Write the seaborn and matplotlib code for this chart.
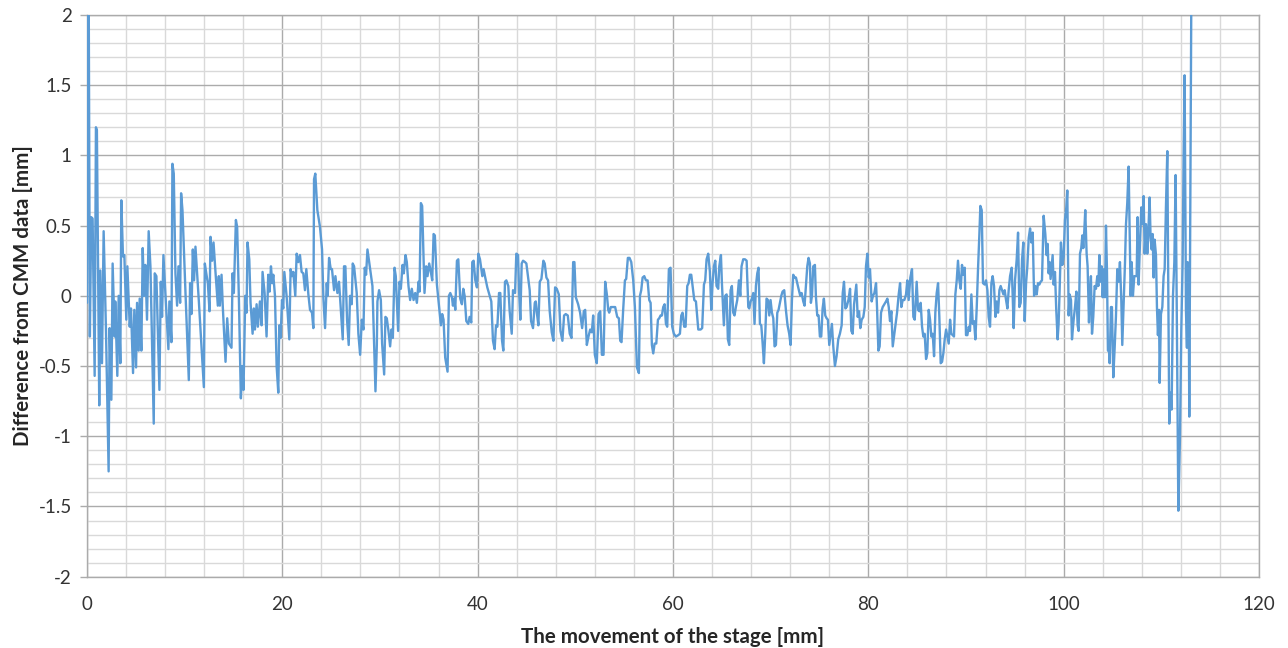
import matplotlib
matplotlib.use("Agg")
import matplotlib.pyplot as plt
import matplotlib.ticker as mticker
import pandas as pd
import seaborn as sns

# values (x in mm, difference in mm)
stage_mm = [
    0.0, 0.15, 0.3, 0.44, 0.58, 0.79, 0.92, 1.02, 1.26, 1.37,
    1.54, 1.71, 1.95, 2.22, 2.32, 2.5, 2.63, 2.84, 2.9, 3.11,
    3.25, 3.42, 3.52, 3.69, 3.83, 4.03, 4.14, 4.38, 4.51, 4.72,
    4.85, 5.03, 5.13, 5.3, 5.4, 5.57, 5.71, 5.85, 5.98, 6.15,
    6.32, 6.5, 6.84, 6.94, 7.11, 7.42, 7.56, 7.69, 7.83, 8.03,
    8.34, 8.44, 8.65, 8.75, 8.89, 9.06, 9.23, 9.37, 9.54, 9.64,
    9.78, 10.09, 10.43, 10.56, 10.7, 10.84, 10.97, 11.11, 11.45, 11.97,
    12.07, 12.24, 12.38, 12.55, 12.65, 12.82, 12.96, 13.16, 13.4, 13.5,
    13.61, 13.78, 13.91, 14.19, 14.36, 14.53,
    14.8, 14.91, 15.04, 15.25, 15.38, 15.56, 15.76, 15.9, 16.03, 16.21,
    16.34, 16.44, 16.62, 16.75, 16.96, 17.09, 17.2, 17.37, 17.5, 17.71,
    17.88, 17.98, 18.19, 18.39, 18.56, 18.7, 18.84, 18.97, 19.08, 19.25,
    19.42, 19.59, 19.69, 19.83, 19.97, 20.1, 20.21, 20.44, 20.72, 20.85,
    20.99, 21.13, 21.33, 21.47, 21.64, 21.81, 21.98, 22.15, 22.32, 22.46,
    22.67, 22.84, 23.04, 23.18, 23.25, 23.38, 23.59, 23.86, 24.07, 24.21,
    24.38, 24.55, 24.65, 24.79, 24.96, 25.09, 25.3, 25.44, 25.64, 25.81,
    26.02, 26.19, 26.32, 26.46, 26.63, 26.8, 26.94, 27.11, 27.21, 27.35,
    27.62, 27.79, 27.97, 28.14, 28.31, 28.44, 28.58, 28.72, 28.82, 28.99,
    29.23, 29.33, 29.54, 29.68, 29.74, 29.91, 30.09, 30.22, 30.43, 30.56,
    30.7, 30.87, 31.04, 31.18, 31.32, 31.49, 31.62, 31.86, 32.0, 32.14,
    32.31, 32.44, 32.62, 32.75, 32.92, 33.09, 33.26, 33.44, 33.61, 33.78,
    33.95, 34.05, 34.19, 34.32, 34.56, 34.73, 34.87, 35.04,
    35.21, 35.35, 35.49, 35.62, 35.83, 36.03, 36.24, 36.37, 36.51, 36.68,
    36.92, 37.06, 37.2, 37.37, 37.47, 37.61, 37.71, 37.88, 38.02, 38.22,
    38.39, 38.53, 38.67, 38.84, 39.04, 39.18, 39.35, 39.45, 39.59, 39.76,
    39.93, 40.07, 40.24, 40.48, 40.61, 40.75, 40.99, 41.23, 41.4, 41.57,
    41.74, 41.88, 42.02, 42.19, 42.32, 42.5, 42.63, 42.8, 42.94, 43.14,
    43.28, 43.49, 43.62, 43.83, 43.96, 44.14, 44.24, 44.37, 44.51, 44.65,
    44.85, 44.99, 45.2, 45.33, 45.47, 45.67, 45.85, 45.95, 46.08, 46.22,
    46.36, 46.53, 46.73, 46.87, 47.04, 47.21, 47.38, 47.59, 47.76, 47.93,
    48.1, 48.31, 48.48, 48.68, 48.85, 49.02, 49.23, 49.43, 49.61, 49.78,
    49.91, 50.05, 50.29, 50.49, 50.7, 50.87, 51.01, 51.18, 51.35, 51.52,
    51.69, 51.83, 52.0, 52.2, 52.38, 52.55, 52.72, 52.89, 53.06, 53.23,
    53.37, 53.47, 53.64, 53.88, 54.08, 54.29, 54.46, 54.6, 54.73, 54.9,
    55.08, 55.21, 55.38, 55.55, 55.73, 55.93, 56.1, 56.31, 56.51, 56.62,
    56.75, 56.89, 57.06, 57.23, 57.4, 57.57, 57.71, 57.84, 57.98, 58.12,
    58.29, 58.46, 58.59, 58.73, 58.87, 59.0, 59.14, 59.28, 59.41, 59.58,
    59.75, 59.92, 60.09, 60.3, 60.54, 60.71, 60.85, 60.98, 61.15, 61.29,
    61.46, 61.6, 61.73, 61.87, 62.01, 62.18, 62.35, 62.59, 62.83, 62.99,
    63.17, 63.3, 63.44, 63.61, 63.78, 63.92, 64.05, 64.19, 64.33, 64.46,
    64.63, 64.74, 64.91, 65.01, 65.21, 65.35, 65.49, 65.62, 65.76, 65.9,
    66.03, 66.17, 66.3, 66.44, 66.58, 66.75, 66.89, 67.02, 67.19, 67.37,
    67.54, 67.71, 67.81, 67.95, 68.08, 68.22, 68.35, 68.49, 68.63, 68.76,
    68.9, 69.04, 69.17, 69.31, 69.45, 69.58, 69.72, 69.86, 69.99, 70.13,
    70.27, 70.4, 70.54, 70.68, 70.81, 70.95, 71.09, 71.22, 71.39, 71.56,
    71.73, 71.9, 72.04, 72.18, 72.31, 72.45, 72.59, 72.72, 72.89, 73.03,
    73.17, 73.34, 73.47, 73.61, 73.75, 73.88, 74.02, 74.12, 74.23, 74.36,
    74.53, 74.63, 74.77, 74.91, 75.04, 75.18, 75.32, 75.45, 75.59, 75.73,
    75.86, 76.0, 76.14, 76.27, 76.41, 76.58, 76.75, 76.92, 77.09,
    77.27, 77.38, 77.51, 77.65, 77.78, 77.96, 78.13, 78.26, 78.4, 78.54,
    78.67, 78.77, 78.91, 79.05, 79.18, 79.32, 79.49, 79.63, 79.76, 79.9,
    80.04, 80.17, 80.34, 80.48, 80.62, 80.79, 80.89, 81.03, 81.16, 81.3,
    81.47, 81.64, 81.81, 81.95, 82.09, 82.22, 82.36, 82.5, 82.63, 82.77,
    82.94, 83.11, 83.25, 83.38, 83.52, 83.69, 83.86, 83.99, 84.13, 84.3,
    84.47, 84.61, 84.75, 84.95, 85.09, 85.22, 85.36, 85.5, 85.63, 85.77,
    85.91, 86.04, 86.18, 86.32, 86.45, 86.59, 86.73, 86.86, 87.0, 87.14,
    87.27, 87.41, 87.55, 87.68, 87.82, 87.96, 88.09, 88.23, 88.37, 88.5,
    88.64, 88.77, 88.91, 89.05, 89.18, 89.32, 89.46, 89.59, 89.73, 89.87,
    90.0, 90.14, 90.28, 90.41, 90.55, 90.69, 90.82, 90.96, 91.1, 91.23,
    91.37, 91.47, 91.61, 91.74, 91.91, 92.05, 92.19, 92.32, 92.46, 92.6,
    92.73, 92.87, 93.01, 93.14, 93.28, 93.42, 93.55, 93.69, 93.83, 93.96,
    94.1, 94.24, 94.37, 94.51, 94.68, 94.78, 94.88, 95.02, 95.19, 95.33,
    95.46, 95.6, 95.74, 95.87, 96.01, 96.15, 96.28, 96.42, 96.56, 96.69,
    96.83, 96.97, 97.1, 97.24, 97.37, 97.51,
    97.64, 97.78, 97.95, 98.12, 98.25, 98.36, 98.46, 98.56, 98.66, 98.77,
    98.87, 98.97, 99.11, 99.24, 99.38, 99.48, 99.59, 99.72, 99.86, 100.0,
    100.13, 100.27, 100.37, 100.51, 100.61, 100.75, 100.85, 101.02, 101.16, 101.3,
    101.43, 101.53, 101.67, 101.8, 101.91, 102.01, 102.11, 102.21, 102.35, 102.45,
    102.59, 102.69, 102.79, 102.9, 103.03, 103.17, 103.31, 103.44, 103.55, 103.65,
    103.78, 103.89, 103.99, 104.13, 104.23, 104.33, 104.43, 104.53, 104.64, 104.71,
    104.84, 104.94, 105.08, 105.22, 105.35, 105.49, 105.63, 105.76, 105.9, 106.0,
    106.14, 106.28, 106.38, 106.51, 106.65, 106.75, 106.86, 106.96, 107.09, 107.23,
    107.37, 107.47, 107.57, 107.67, 107.81, 107.95, 108.08, 108.19, 108.29, 108.43,
    108.56, 108.66, 108.8, 108.9, 109.01, 109.11, 109.21, 109.31, 109.45, 109.55,
    109.65, 109.76, 109.83, 109.96, 110.1, 110.23, 110.34, 110.47, 110.61, 110.71,
    110.81, 110.92, 111.05, 111.19, 111.33, 111.46, 111.57, 111.74, 111.91, 112.04,
    112.18, 112.28, 112.38, 112.52, 112.62, 112.69, 112.79, 112.86, 112.96, 113.1,
]

diff_mm = [
    -0.05, 2.8, -0.29, 0.56, 0.55, -0.57, 1.2, 1.18, -0.78, 0.18,
    -0.48, 0.46, -0.25, -1.25, -0.23, -0.74, 0.23, -0.29, -0.04, -0.57,
    0.0, -0.48, 0.68, 0.28, 0.29, -0.17, 0.21, -0.22, -0.09, -0.55,
    -0.1, -0.51, -0.05, -0.39, -0.02, -0.39, 0.34, 0.0, 0.22, -0.17,
    0.46, 0.21, -0.91, 0.16, 0.14, -0.67, 0.1, -0.15, 0.29, 0.02,
    -0.38, -0.04, -0.33, 0.94, 0.87, 0.16, -0.07, 0.21, -0.05, 0.73,
    0.61, 0.02, -0.6, 0.09, -0.13, 0.33, 0.11, 0.35, -0.03, -0.65,
    0.23, 0.15, 0.09, -0.11, 0.42, 0.25, 0.38, 0.17, -0.07, 0.14,
    -0.07, 0.15, -0.08, -0.47, -0.16, -0.34,
    -0.37, 0.16, 0.02, 0.54, 0.49, -0.03, -0.73, -0.5, -0.67, 0.0,
    -0.12, 0.38, 0.26, -0.05, -0.27, -0.09, -0.24, -0.06, -0.22, -0.04,
    -0.21, 0.17, 0.02, -0.29, 0.15, 0.03, 0.21, 0.09, 0.15, 0.0,
    -0.5, -0.69, -0.21, -0.3, -0.03, -0.09, 0.17, 0.0, -0.31, 0.19,
    0.14, 0.17, 0.0, 0.3, 0.24, 0.29, 0.17, 0.16, 0.04, 0.19,
    0.01, -0.1, -0.12, -0.23, 0.83, 0.87, 0.61, 0.49, 0.33, -0.02,
    -0.23, 0.09, 0.0, 0.27, 0.19, 0.19, 0.04, 0.14, 0.02, 0.1,
    -0.12, -0.31, 0.21, 0.21, -0.17, -0.35, 0.0, -0.06, 0.23, 0.21,
    0.02, -0.27, -0.42, -0.17, -0.24, 0.2, 0.15, 0.33, 0.28, 0.19,
    0.07, -0.17, -0.68, -0.35, -0.04, 0.04, -0.03, -0.34, -0.56, -0.15,
    -0.16, -0.25, -0.36, -0.24, -0.3, 0.2, 0.14, -0.25, 0.1, 0.05,
    0.22, 0.16, 0.29, 0.24, 0.07, -0.03, 0.05, -0.03, 0.02, -0.05,
    0.1, 0.03, 0.66, 0.64, 0.02, 0.21, 0.14, 0.23,
    0.17, 0.11, 0.44, 0.43, 0.08, -0.06, -0.21, -0.13, -0.17, -0.44,
    -0.54, 0.0, 0.02, -0.01, -0.07, -0.02, -0.1, 0.25, 0.26, -0.02,
    -0.06, 0.05, 0.0, -0.18, -0.2, -0.15, -0.19, 0.24, 0.25, 0.11,
    0.06, 0.3, 0.26, 0.14, 0.19, 0.14, 0.06, 0.0, -0.04, -0.32,
    -0.38, -0.21, -0.22, 0.02, 0.02, -0.32, -0.39, 0.1, 0.11, 0.07,
    -0.11, -0.27, 0.04, 0.02, 0.3, 0.29, 0.04, -0.17, 0.23, 0.25,
    0.24, 0.23, 0.11, 0.04, -0.18, -0.23, -0.05, -0.04, -0.13, -0.21,
    0.1, 0.12, 0.25, 0.23, 0.13, 0.11, -0.11, -0.26, -0.32, 0.06,
    0.05, 0.01, -0.25, -0.32, -0.14, -0.13, -0.14, -0.27, -0.3, 0.24,
    0.24, -0.01, -0.06, -0.12, -0.23, -0.11, -0.1, -0.35, -0.29, -0.24,
    -0.26, -0.14, -0.42, -0.48, -0.13, -0.11, -0.42, -0.42, 0.1, 0.01,
    -0.1, -0.12, -0.08, -0.08, -0.08, -0.15, -0.16, -0.32, -0.33, -0.1,
    0.11, 0.12, 0.27, 0.27, 0.24, 0.11, -0.08, -0.51, -0.55, 0.0,
    0.04, 0.13, 0.14, 0.11, 0.11, -0.03, -0.05, -0.35, -0.41, -0.34,
    -0.34, -0.17, -0.16, -0.14, -0.14, -0.08, -0.06, -0.2, -0.22, 0.19,
    0.2, -0.22, -0.27, -0.29, -0.28, -0.27, -0.14, -0.12, -0.22, -0.22,
    0.07, 0.09, 0.15, 0.15, 0.07, -0.03, -0.04, -0.24, -0.24, -0.23,
    0.08, 0.11, 0.26, 0.3, 0.17, -0.1, 0.09, 0.21, 0.25, 0.07,
    0.05, 0.21, 0.29, 0.09, -0.21, 0.0, 0.01, -0.31, -0.35, 0.04,
    0.07, -0.12, -0.14, -0.08, -0.03, 0.11, 0.0, 0.21, 0.26, 0.26,
    0.25, -0.08, -0.09, -0.04, -0.02, 0.02, -0.2, 0.07, 0.16, 0.2,
    -0.2, -0.21, -0.33, -0.48, -0.27, -0.02, -0.03, -0.14, -0.03, -0.12,
    -0.16, -0.36, -0.35, -0.12, -0.1, -0.05, 0.0, 0.03, 0.04, -0.1,
    -0.21, -0.27, -0.35, -0.03, 0.15, 0.13, 0.13, 0.09, 0.04, 0.0,
    0.02, -0.04, -0.07, 0.07, 0.21, 0.27, 0.23, -0.05, 0.0, 0.21,
    0.22, 0.0, -0.14, -0.14, -0.29, -0.29, -0.09, -0.02, -0.14, -0.16,
    -0.17, -0.35, -0.27, -0.2, -0.36, -0.5, -0.43, -0.31, -0.27,
    -0.21, 0.02, 0.1, -0.09, -0.08, -0.03, 0.05, -0.25, -0.27, -0.06,
    0.02, 0.08, -0.15, -0.11, -0.23, -0.17, -0.15, -0.08, 0.21, 0.3,
    0.13, 0.19, -0.04, 0.0, 0.02, 0.09, -0.08, -0.39, -0.36, -0.12,
    -0.08, -0.06, -0.04, -0.02, -0.08, -0.18, -0.11, -0.36, -0.29, -0.22,
    -0.12, 0.01, 0.09, -0.08, -0.03, -0.03, 0.01, 0.11, -0.03, 0.13,
    0.19, -0.15, -0.17, 0.1, -0.1, -0.11, -0.05, -0.22, -0.29, -0.27,
    -0.45, -0.41, -0.1, -0.17, -0.29, -0.27, -0.43, -0.12, 0.02, 0.09,
    -0.15, -0.48, -0.47, -0.41, -0.31, -0.24, -0.29, -0.34, -0.17, -0.27,
    -0.28, -0.29, 0.01, 0.11, 0.25, 0.11, 0.05, 0.22, 0.15, 0.2,
    -0.28, -0.28, -0.22, -0.25, 0.01, -0.2, -0.18, -0.31, -0.08, 0.19,
    0.44, 0.64, 0.61, 0.09, 0.08, 0.11, 0.04, -0.15, -0.22, 0.09,
    0.14, 0.07, -0.15, -0.04, -0.12, 0.04, 0.07, 0.04, 0.01, 0.04,
    -0.03, -0.09, 0.04, 0.14, 0.2, 0.0, -0.23, 0.11, 0.26, 0.45,
    -0.08, -0.05, 0.26, 0.38, -0.18, 0.09, 0.21, 0.41, 0.48, 0.38,
    0.45, 0.0, 0.07, 0.01, 0.09, 0.08,
    0.1, 0.11, 0.57, 0.44, 0.29, 0.37, 0.16, 0.24, 0.12, 0.21,
    0.29, 0.08, 0.17, -0.1, -0.31, -0.2, 0.05, 0.38, 0.22, 0.28,
    0.54, 0.63, 0.75, -0.14, 0.01, -0.03, -0.31, -0.17, -0.08, 0.03,
    -0.21, -0.25, 0.3, 0.34, 0.43, 0.34, 0.46, 0.61, 0.3, 0.21,
    -0.19, 0.0, 0.14, -0.27, -0.15, 0.07, 0.05, 0.14, 0.07, 0.29,
    0.1, 0.21, -0.01, 0.19, -0.01, 0.5, 0.19, -0.39, -0.39, -0.48,
    -0.08, -0.08, -0.58, -0.37, -0.15, 0.19, 0.1, 0.24, -0.03, -0.35,
    -0.05, 0.24, 0.51, 0.66, 0.92, 0.46, 0.0, 0.24, 0.0, 0.14,
    0.14, 0.14, 0.56, 0.08, 0.37, 0.63, 0.51, 0.71, 0.3, 0.51,
    0.3, 0.44, 0.7, 0.41, 0.33, 0.44, 0.13, 0.4, 0.29, -0.08,
    -0.28, -0.1, -0.62, -0.13, -0.08, 0.14, 0.19, 0.63, 1.03, 0.07,
    -0.91, -0.69, -0.81, 0.0, 0.24, 0.86, -0.03, -1.53, -1.0, -0.25,
    0.24, 1.0, 1.57, -0.1, -0.37, 0.24, 0.19, -0.86, 0.5, 2.6,
]

x_ticks = [0, 20, 40, 60, 80, 100, 120]
y_ticks = [-2, -1.5, -1, -0.5, 0, 0.5, 1, 1.5, 2]

df = pd.DataFrame({"stage": stage_mm, "diff": diff_mm})

sns.set_theme(style="white")
plt.rcParams["font.family"] = ["Lato", "DejaVu Sans"]
plt.rcParams["axes.unicode_minus"] = False

fig, ax = plt.subplots(figsize=(12.88, 6.48), dpi=100)
fig.subplots_adjust(left=0.0675, right=0.9775, top=0.977, bottom=0.11)

sns.lineplot(data=df, x="stage", y="diff", ax=ax, color="#5B9BD5",
             linewidth=1.7, estimator=None, sort=False, zorder=3)

ax.set_xlim(0, 120)
ax.set_ylim(-2, 2)
ax.xaxis.set_major_locator(mticker.FixedLocator(x_ticks))
ax.yaxis.set_major_locator(mticker.FixedLocator(y_ticks))
ax.xaxis.set_minor_locator(mticker.MultipleLocator(4))
ax.yaxis.set_minor_locator(mticker.MultipleLocator(0.1))
ax.yaxis.set_major_formatter(mticker.FuncFormatter(lambda v, p: f"{v:g}"))

ax.grid(which="major", color="#ABABAB", linewidth=1.0)
ax.grid(which="minor", color="#D9D9D9", linewidth=1.0)
ax.set_axisbelow(True)
for side in ax.spines.values():
    side.set_color("#ABABAB")
    side.set_linewidth(1.0)

ax.tick_params(axis="both", which="minor", length=0)
ax.tick_params(axis="x", which="major", length=0, labelsize=13.5,
               labelcolor="#333333", pad=14)
ax.tick_params(axis="y", which="major", direction="out", length=5,
               width=1.0, color="#ABABAB", left=True, labelsize=13.5,
               labelcolor="#333333", pad=6)
ax.set_xlabel("The movement of the stage [mm]", fontsize=14.8,
              fontweight="bold", color="#262626", labelpad=10)
ax.set_ylabel("Difference from CMM data [mm]", fontsize=14.8,
              fontweight="bold", color="#262626", labelpad=4)

plt.savefig("out.png", dpi=100)
